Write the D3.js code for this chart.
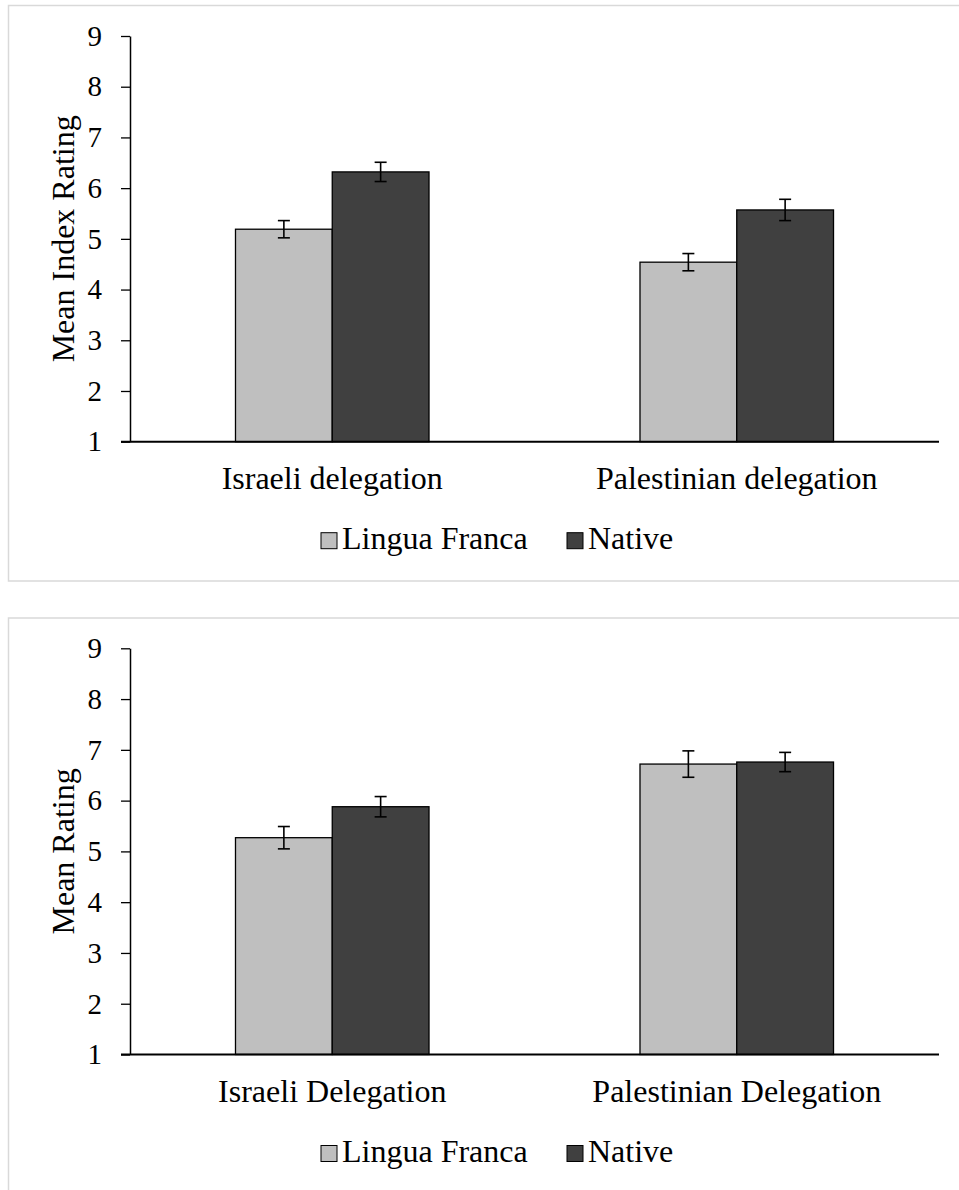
<!DOCTYPE html>
<html>
<head>
<meta charset="utf-8">
<script src="https://cdn.jsdelivr.net/npm/d3@7"></script>
<style>
  html, body { margin: 0; padding: 0; background: #ffffff; }
  svg { display: block; }
  text { font-family: "Liberation Serif", "Times New Roman", serif; fill: #000; }
</style>
</head>
<body>
<svg id="chart" width="959" height="1190"></svg>
<script>
// Series and labels
const seriesNames = ["Lingua Franca", "Native"];
const seriesColors = ["#BFBFBF", "#404040"];
const yTicks = [1, 2, 3, 4, 5, 6, 7, 8, 9];

// Panel 1: index ratings
const catsTop = ["Israeli delegation", "Palestinian delegation"];
const lfTop = [5.19, 4.54];
const nativeTop = [6.32, 5.57];
const lfTopErr = [0.17, 0.17];
const nativeTopErr = [0.19, 0.21];

// Panel 2: ratings
const catsBottom = ["Israeli Delegation", "Palestinian Delegation"];
const lfBottom = [5.27, 6.72];
const nativeBottom = [5.88, 6.76];
const lfBottomErr = [0.22, 0.26];
const nativeBottomErr = [0.20, 0.19];

const svg = d3.select("#chart");

function drawPanel(cfg) {
  const g = svg.append("g");

  // outer frame
  g.append("rect")
    .attr("x", 8.5).attr("y", cfg.frameTop)
    .attr("width", 980).attr("height", cfg.frameHeight)
    .attr("fill", "none").attr("stroke", "#D9D9D9").attr("stroke-width", 1.5);

  const x0 = d3.scaleBand().domain(cfg.cats).range([130, 939])
    .paddingInner(0.5216).paddingOuter(0.2608);
  const x1 = d3.scaleBand().domain(seriesNames).range([0, x0.bandwidth()]);
  const y = d3.scaleLinear().domain([1, 9]).range([cfg.plotBottom, cfg.plotTop]);

  const rows = cfg.cats.map((c, i) => ({
    cat: c,
    vals: [
      { s: seriesNames[0], v: cfg.lf[i], e: cfg.lfErr[i], color: seriesColors[0] },
      { s: seriesNames[1], v: cfg.nat[i], e: cfg.natErr[i], color: seriesColors[1] }
    ]
  }));

  // bars
  const grp = g.selectAll("g.cat").data(rows).enter().append("g")
    .attr("transform", d => `translate(${x0(d.cat)},0)`);
  grp.selectAll("rect").data(d => d.vals).enter().append("rect")
    .attr("x", d => x1(d.s))
    .attr("y", d => y(d.v))
    .attr("width", x1.bandwidth())
    .attr("height", d => y(1) - y(d.v))
    .attr("fill", d => d.color)
    .attr("stroke", "#000").attr("stroke-width", 1.3);

  // error bars
  const eb = grp.selectAll("g.err").data(d => d.vals).enter().append("g")
    .attr("stroke", "#000").attr("stroke-width", 1.6);
  const cx = d => x1(d.s) + x1.bandwidth() / 2;
  eb.append("line").attr("x1", cx).attr("x2", cx)
    .attr("y1", d => y(d.v + d.e)).attr("y2", d => y(d.v - d.e));
  eb.append("line").attr("x1", d => cx(d) - 6).attr("x2", d => cx(d) + 6)
    .attr("y1", d => y(d.v + d.e)).attr("y2", d => y(d.v + d.e));
  eb.append("line").attr("x1", d => cx(d) - 6).attr("x2", d => cx(d) + 6)
    .attr("y1", d => y(d.v - d.e)).attr("y2", d => y(d.v - d.e));

  // y axis
  const yAxis = g.append("g").attr("transform", "translate(130,0)")
    .call(d3.axisLeft(y).tickValues(yTicks).tickFormat(d3.format("d")).tickSize(9).tickSizeOuter(0).tickPadding(19));
  yAxis.attr("font-family", null).attr("font-size", null);
  yAxis.select(".domain").attr("stroke", "#000").attr("stroke-width", 1.5);
  yAxis.selectAll(".tick line").attr("stroke", "#000").attr("stroke-width", 1.3);
  yAxis.selectAll(".tick text").attr("font-size", 29)
    .style("font-family", "'Liberation Serif', 'Times New Roman', serif").attr("fill", "#000");

  // x axis baseline
  g.append("line").attr("x1", 121).attr("x2", 939)
    .attr("y1", y(1)).attr("y2", y(1))
    .attr("stroke", "#000").attr("stroke-width", 2);

  // category labels
  g.selectAll("text.cat").data(cfg.cats).enter().append("text")
    .attr("x", d => x0(d) + x0.bandwidth() / 2)
    .attr("y", y(1) + 47)
    .attr("text-anchor", "middle").attr("font-size", 32)
    .text(d => d);

  // y axis title
  g.append("text")
    .attr("transform", `translate(74,${(cfg.plotTop + cfg.plotBottom) / 2}) rotate(-90)`)
    .attr("text-anchor", "middle").attr("font-size", 32)
    .text(cfg.yTitle);

  // legend
  const leg = g.append("g").attr("transform", `translate(0,${y(1) + 107})`);
  const legX = [321, 567];
  seriesNames.forEach((s, i) => {
    leg.append("rect").attr("x", legX[i]).attr("y", -16).attr("width", 16).attr("height", 16)
      .attr("fill", seriesColors[i]).attr("stroke", "#000").attr("stroke-width", 1);
    leg.append("text").attr("x", legX[i] + 21).attr("y", 0).attr("font-size", 32).text(s);
  });
}

drawPanel({
  cats: catsTop, lf: lfTop, nat: nativeTop, lfErr: lfTopErr, natErr: nativeTopErr,
  frameTop: 5.5, frameHeight: 575.5, plotTop: 36, plotBottom: 441.7,
  yTitle: "Mean Index Rating"
});

drawPanel({
  cats: catsBottom, lf: lfBottom, nat: nativeBottom, lfErr: lfBottomErr, natErr: nativeBottomErr,
  frameTop: 618, frameHeight: 700, plotTop: 648.3, plotBottom: 1054.5,
  yTitle: "Mean Rating"
});
</script>
</body>
</html>
